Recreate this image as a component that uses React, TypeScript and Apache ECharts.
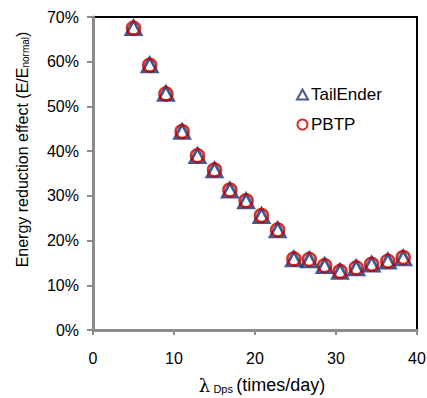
import React, { useEffect, useRef } from "react";
import * as echarts from "echarts";

const lambdaValues = [5, 7, 9, 11, 12.9, 15, 16.9, 18.9, 20.8, 22.8, 24.8, 26.7, 28.6, 30.5, 32.5, 34.4, 36.4, 38.3];
const tailEnder = [0.676, 0.593, 0.529, 0.444, 0.39, 0.358, 0.313, 0.289, 0.256, 0.224, 0.159, 0.157, 0.144, 0.131, 0.139, 0.147, 0.154, 0.161];
const pbtp = [0.675, 0.592, 0.528, 0.444, 0.39, 0.358, 0.313, 0.289, 0.256, 0.224, 0.159, 0.158, 0.144, 0.131, 0.139, 0.147, 0.154, 0.162];
const seriesNames = ["TailEnder", "PBTP"];

const FONT = "'Liberation Sans', Arial, sans-serif";
const NAVY = "#14306e";
const RED = "#c00000";

export default function App() {
  const ref = useRef<HTMLDivElement>(null);
  useEffect(() => {
    document.body.style.margin = "0";
    if (!ref.current) return;
    const chart = echarts.init(ref.current, undefined, { renderer: "svg" });
    chart.setOption({
      animation: false,
      textStyle: { fontFamily: FONT },
      grid: {
        left: 93,
        right: 10,
        top: 17,
        bottom: 68,
        show: true,
        borderColor: "#000",
        borderWidth: 2,
        outerBoundsMode: "none",
      },
      legend: {
        orient: "vertical",
        left: 291,
        top: 81,
        itemWidth: 11,
        itemHeight: 10,
        itemGap: 13,
        textStyle: { fontSize: 17, color: "#000", fontFamily: FONT, padding: [0, 0, 0, -2] },
        data: [
          { name: seriesNames[0], icon: "triangle" },
          { name: seriesNames[1], icon: "circle" },
        ],
      },
      xAxis: {
        type: "value",
        min: 0,
        max: 40,
        interval: 10,
        name: "{l|λ} {s|Dps} {t|(times/day)}",
        nameLocation: "middle",
        nameGap: 44,
        nameTextStyle: {
          color: "#000",
          padding: [0, 0, 0, 14],
          rich: {
            l: { fontSize: 18, fontFamily: "'DejaVu Serif', serif", color: "#000", verticalAlign: "bottom", lineHeight: 20 },
            s: { fontSize: 11, color: "#000", fontFamily: FONT, verticalAlign: "bottom", lineHeight: 20 },
            t: { fontSize: 18, color: "#000", fontFamily: FONT, verticalAlign: "bottom", lineHeight: 20 },
          },
        },
        axisLine: { show: true, lineStyle: { color: "#8c8c8c", width: 3 } },
        axisTick: { show: true, inside: false, length: 5, lineStyle: { color: "#8c8c8c", width: 2 } },
        axisLabel: { color: "#000", fontSize: 16, margin: 20, fontFamily: FONT },
        splitLine: { show: false },
      },
      yAxis: {
        type: "value",
        min: 0,
        max: 0.7,
        interval: 0.1,
        name: "{m|Energy reduction effect (E/E}{s|normal}{m|)}",
        nameLocation: "middle",
        nameRotate: 90,
        nameGap: 63,
        nameTextStyle: {
          color: "#000",
          padding: [0, 0, 0, 48],
          rich: {
            m: { fontSize: 16, color: "#000", fontFamily: FONT, verticalAlign: "bottom" },
            s: { fontSize: 10, color: "#000", fontFamily: FONT, verticalAlign: "bottom" },
          },
        },
        axisLine: { show: true, lineStyle: { color: "#8c8c8c", width: 3 } },
        axisTick: { show: true, inside: false, length: 6, lineStyle: { color: "#8c8c8c", width: 2 } },
        axisLabel: {
          color: "#000",
          fontSize: 16,
          margin: 14,
          fontFamily: FONT,
          formatter: (v: number) => `${Math.round(v * 100)}%`,
        },
        splitLine: { show: false },
      },
      series: [
        {
          name: seriesNames[0],
          type: "scatter",
          symbol: "triangle",
          symbolSize: [15, 14],
          itemStyle: { color: "rgba(0,0,0,0)", borderColor: NAVY, borderWidth: 2.8 },
          data: lambdaValues.map((x, i) => [x, tailEnder[i]]),
          z: 2,
        },
        {
          name: seriesNames[1],
          type: "scatter",
          symbol: "circle",
          symbolSize: 13,
          itemStyle: { color: "rgba(0,0,0,0)", borderColor: RED, borderWidth: 2.5 },
          data: lambdaValues.map((x, i) => [x, pbtp[i]]),
          z: 3,
        },
      ],
    });
    return () => chart.dispose();
  }, []);
  return <div ref={ref} style={{ width: 427, height: 398 }} />;
}
